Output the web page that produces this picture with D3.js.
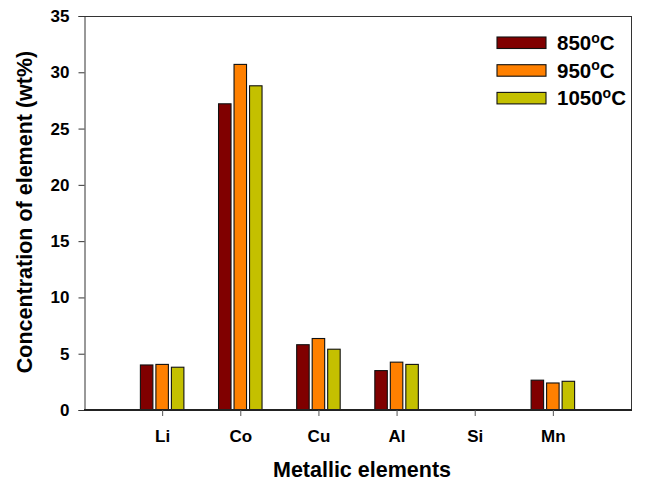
<!DOCTYPE html>
<html>
<head>
<meta charset="utf-8">
<script src="https://cdn.jsdelivr.net/npm/d3@7"></script>
<style>
  html, body { margin: 0; padding: 0; background: #fff; }
  svg { display: block; font-family: "Liberation Sans", Arial, sans-serif; font-weight: bold; }
</style>
</head>
<body>
<svg id="chart" width="645" height="481"></svg>
<script>
// Metal content of the leached residue at three roasting temperatures
const elements = ["Li", "Co", "Cu", "Al", "Si", "Mn"];
const temperatures = ["850", "950", "1050"];
const conc850 = [4.0, 27.2, 5.8, 3.5, 0, 2.65];
const conc950 = [4.05, 30.7, 6.35, 4.25, 0, 2.4];
const conc1050 = [3.8, 28.8, 5.4, 4.05, 0, 2.55];
const yTicks = [0, 5, 10, 15, 20, 25, 30, 35];
const colors = ["#800000", "#ff8000", "#c4c000"];

const seriesValues = [conc850, conc950, conc1050];

const svg = d3.select("#chart");
const plotLeft = 84, plotRight = 631, plotTop = 16, plotBottom = 410;

// element positions sit at 1..6 on a 0..7 axis
const x = d3.scaleLinear().domain([0, elements.length + 1]).range([plotLeft, plotRight]);
const inner = d3.scaleBand().domain(temperatures).range([-21.75, 21.75]).paddingInner(0.194);
const y = d3.scaleLinear().domain([0, 35]).range([plotBottom, plotTop]);

// frame: top and right lines
svg.append("line").attr("x1", plotLeft).attr("x2", plotRight).attr("y1", plotTop + 0.5).attr("y2", plotTop + 0.5)
  .attr("stroke", "#333").attr("stroke-width", 1);
svg.append("line").attr("x1", plotRight + 0.5).attr("x2", plotRight + 0.5).attr("y1", plotTop).attr("y2", plotBottom)
  .attr("stroke", "#333").attr("stroke-width", 1);

// bars
const groups = svg.append("g").selectAll("g")
  .data(elements)
  .join("g")
  .attr("transform", (d, i) => `translate(${x(i + 1)},0)`);

groups.selectAll("rect")
  .data((d, i) => temperatures.map((t, s) => ({ t, s, v: seriesValues[s][i] })))
  .join("rect")
  .filter(d => d.v > 0)
  .attr("x", d => inner(d.t))
  .attr("width", inner.bandwidth())
  .attr("y", d => y(d.v))
  .attr("height", d => y(0) - y(d.v))
  .attr("fill", d => colors[d.s])
  .attr("stroke", "#111")
  .attr("stroke-width", 1.1);

// y axis
const yAxis = d3.axisLeft(y).tickValues(yTicks).tickSize(6).tickPadding(8).tickFormat(d3.format("d"));
const gy = svg.append("g").attr("transform", `translate(${plotLeft + 0.5},0)`).call(yAxis);
gy.select(".domain").attr("stroke", "#333");
gy.selectAll(".tick line").attr("stroke", "#333");
gy.selectAll(".tick text").attr("font-size", 17).attr("font-family", "Liberation Sans, Arial, sans-serif")
  .attr("font-weight", "bold").attr("fill", "#000").attr("x", -15);

// x axis
const xAxis = d3.axisBottom(x).tickValues(d3.range(1, elements.length + 1)).tickSize(6).tickPadding(14)
  .tickFormat(d => elements[d - 1]);
const gx = svg.append("g").attr("transform", `translate(0,${plotBottom})`).call(xAxis);
gx.select(".domain").attr("stroke", "#222").attr("stroke-width", 2)
  .attr("d", `M${plotLeft},0H${plotRight + 1}`);
gx.selectAll(".tick line").attr("stroke", "#555");
gx.selectAll(".tick text").attr("font-size", 17).attr("font-family", "Liberation Sans, Arial, sans-serif")
  .attr("font-weight", "bold").attr("fill", "#000");

// axis titles
svg.append("text")
  .attr("x", 362).attr("y", 477)
  .attr("text-anchor", "middle")
  .attr("font-size", 21.5)
  .text("Metallic elements");

svg.append("text")
  .attr("transform", "translate(32,212) rotate(-90)")
  .attr("text-anchor", "middle")
  .attr("font-size", 21.5)
  .text("Concentration of element (wt%)");

// legend
const legend = svg.append("g").attr("transform", "translate(497,37)");
const items = legend.selectAll("g").data(temperatures).join("g")
  .attr("transform", (d, i) => `translate(0,${i * 27.7})`);
items.append("rect")
  .attr("width", 49).attr("height", 11.5)
  .attr("fill", (d, i) => colors[i])
  .attr("stroke", "#111").attr("stroke-width", 1.1);
const lt = items.append("text").attr("x", 60).attr("y", 13).attr("font-size", 20.5);
lt.append("tspan").text(d => d);
lt.append("tspan").attr("dy", -7.5).attr("font-size", 14).text("o");
lt.append("tspan").attr("dy", 7.5).text("C");
</script>
</body>
</html>
